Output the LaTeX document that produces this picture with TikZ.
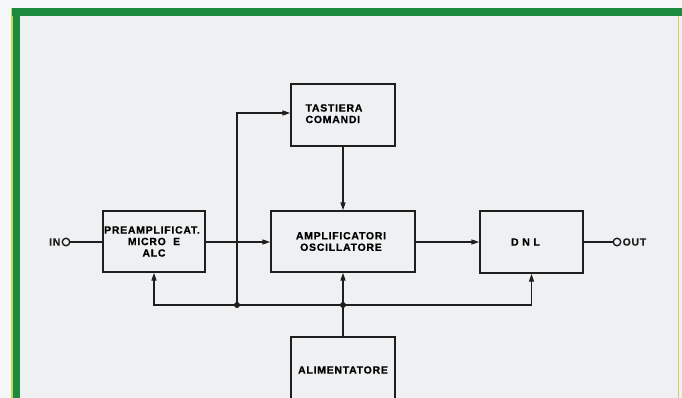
\documentclass[tikz,border=0pt]{standalone}
\usepackage{fontspec}
\newfontfamily\blockfont[LetterSpace=7, FakeBold=0.6]{Liberation Sans}
\usetikzlibrary{arrows.meta}
\definecolor{paper}{RGB}{238,240,242}
\definecolor{margin}{RGB}{245,246,247}
\definecolor{frame}{RGB}{28,138,62}
\definecolor{edge}{RGB}{200,215,90}
\definecolor{ink}{RGB}{30,30,30}
\tikzset{
  block/.style={draw=ink, line width=1.4pt, fill=paper, inner sep=0pt,
    align=center, font=\blockfont\bfseries\fontsize{10.5}{11.5}\selectfont},
  pin/.style={circle, draw=ink, line width=1.4pt, fill=paper, minimum size=7.5pt, inner sep=0pt},
  wire/.style={draw=ink, line width=1.4pt},
  tag/.style={font=\blockfont\bfseries\fontsize{10.5}{11.5}\selectfont, text=ink, inner sep=1pt}
}
\begin{document}
\begin{tikzpicture}[x=1pt, y=-1pt, >={Triangle[length=8pt,width=5pt]}]
  \useasboundingbox (0,0) rectangle (682,398);
  % page and frame
  \fill[margin] (0,0) rectangle (682,398);
  \fill[paper] (12,8) rectangle (682,398);
  \fill[edge] (11,8) rectangle (13,398);
  \fill[frame] (12,8) rectangle (682,16);
  \fill[frame] (13,8) rectangle (20,398);
  \fill[edge] (677.5,16) rectangle (679,398);

  % blocks
  \node[block, minimum width=102pt, minimum height=61pt] (pre) at (154,241.5)
    {\hspace*{-4pt}PREAMPLIFICAT.\\MICRO\ \ E\\ALC};
  \node[block, minimum width=144pt, minimum height=61pt] (amp) at (343,241.5)
    {\hspace*{-4pt}AMPLIFICATORI\\\hspace*{-4pt}OSCILLATORE};
  \node[block, minimum width=103pt, minimum height=62pt] (dnl) at (531.5,242)
    {\hspace*{-12pt}D N L};
  \node[block, minimum width=104pt, minimum height=62pt] (tast) at (343,115)
    {\hspace*{-18pt}\begin{tabular}{@{}l@{}}TASTIERA\\COMANDI\end{tabular}};
  \node[block, minimum width=104pt, minimum height=66pt] (alim) at (343,370)
    {ALIMENTATORE};

  % terminals
  \node[pin] (inpin) at (66,242) {};
  \node[tag, anchor=east] (inlbl) at (inpin.west) {IN};
  \node[pin] (outpin) at (617,242) {};
  \node[tag, anchor=west] (outlbl) at (outpin.east) {OUT};

  % bus
  \coordinate (j1) at (237,305);
  \coordinate (j2) at (343,305);

  \draw[wire] (inpin) -- (pre.west |- inpin);
  \draw[wire, ->] (pre.east |- inpin) -- (amp.west |- inpin);
  \draw[wire, ->] (amp.east |- inpin) -- (dnl.west |- inpin);
  \draw[wire] (dnl.east |- inpin) -- (outpin);
  \draw[wire, ->] (tast.south) -- (amp.north);
  \draw[wire, ->] (alim.north) -- (amp.south);
  \draw[wire] (j1) -- (j2);
  \draw[wire, ->] (j1) -| (pre.south);
  \draw[wire, ->] (j2) -| (dnl.south);
  \draw[wire, ->] (j1) |- ([yshift=2pt]tast.west);

  \fill[ink] (j1) circle (3pt);
  \fill[ink] (j2) circle (3pt);
\end{tikzpicture}
\end{document}
